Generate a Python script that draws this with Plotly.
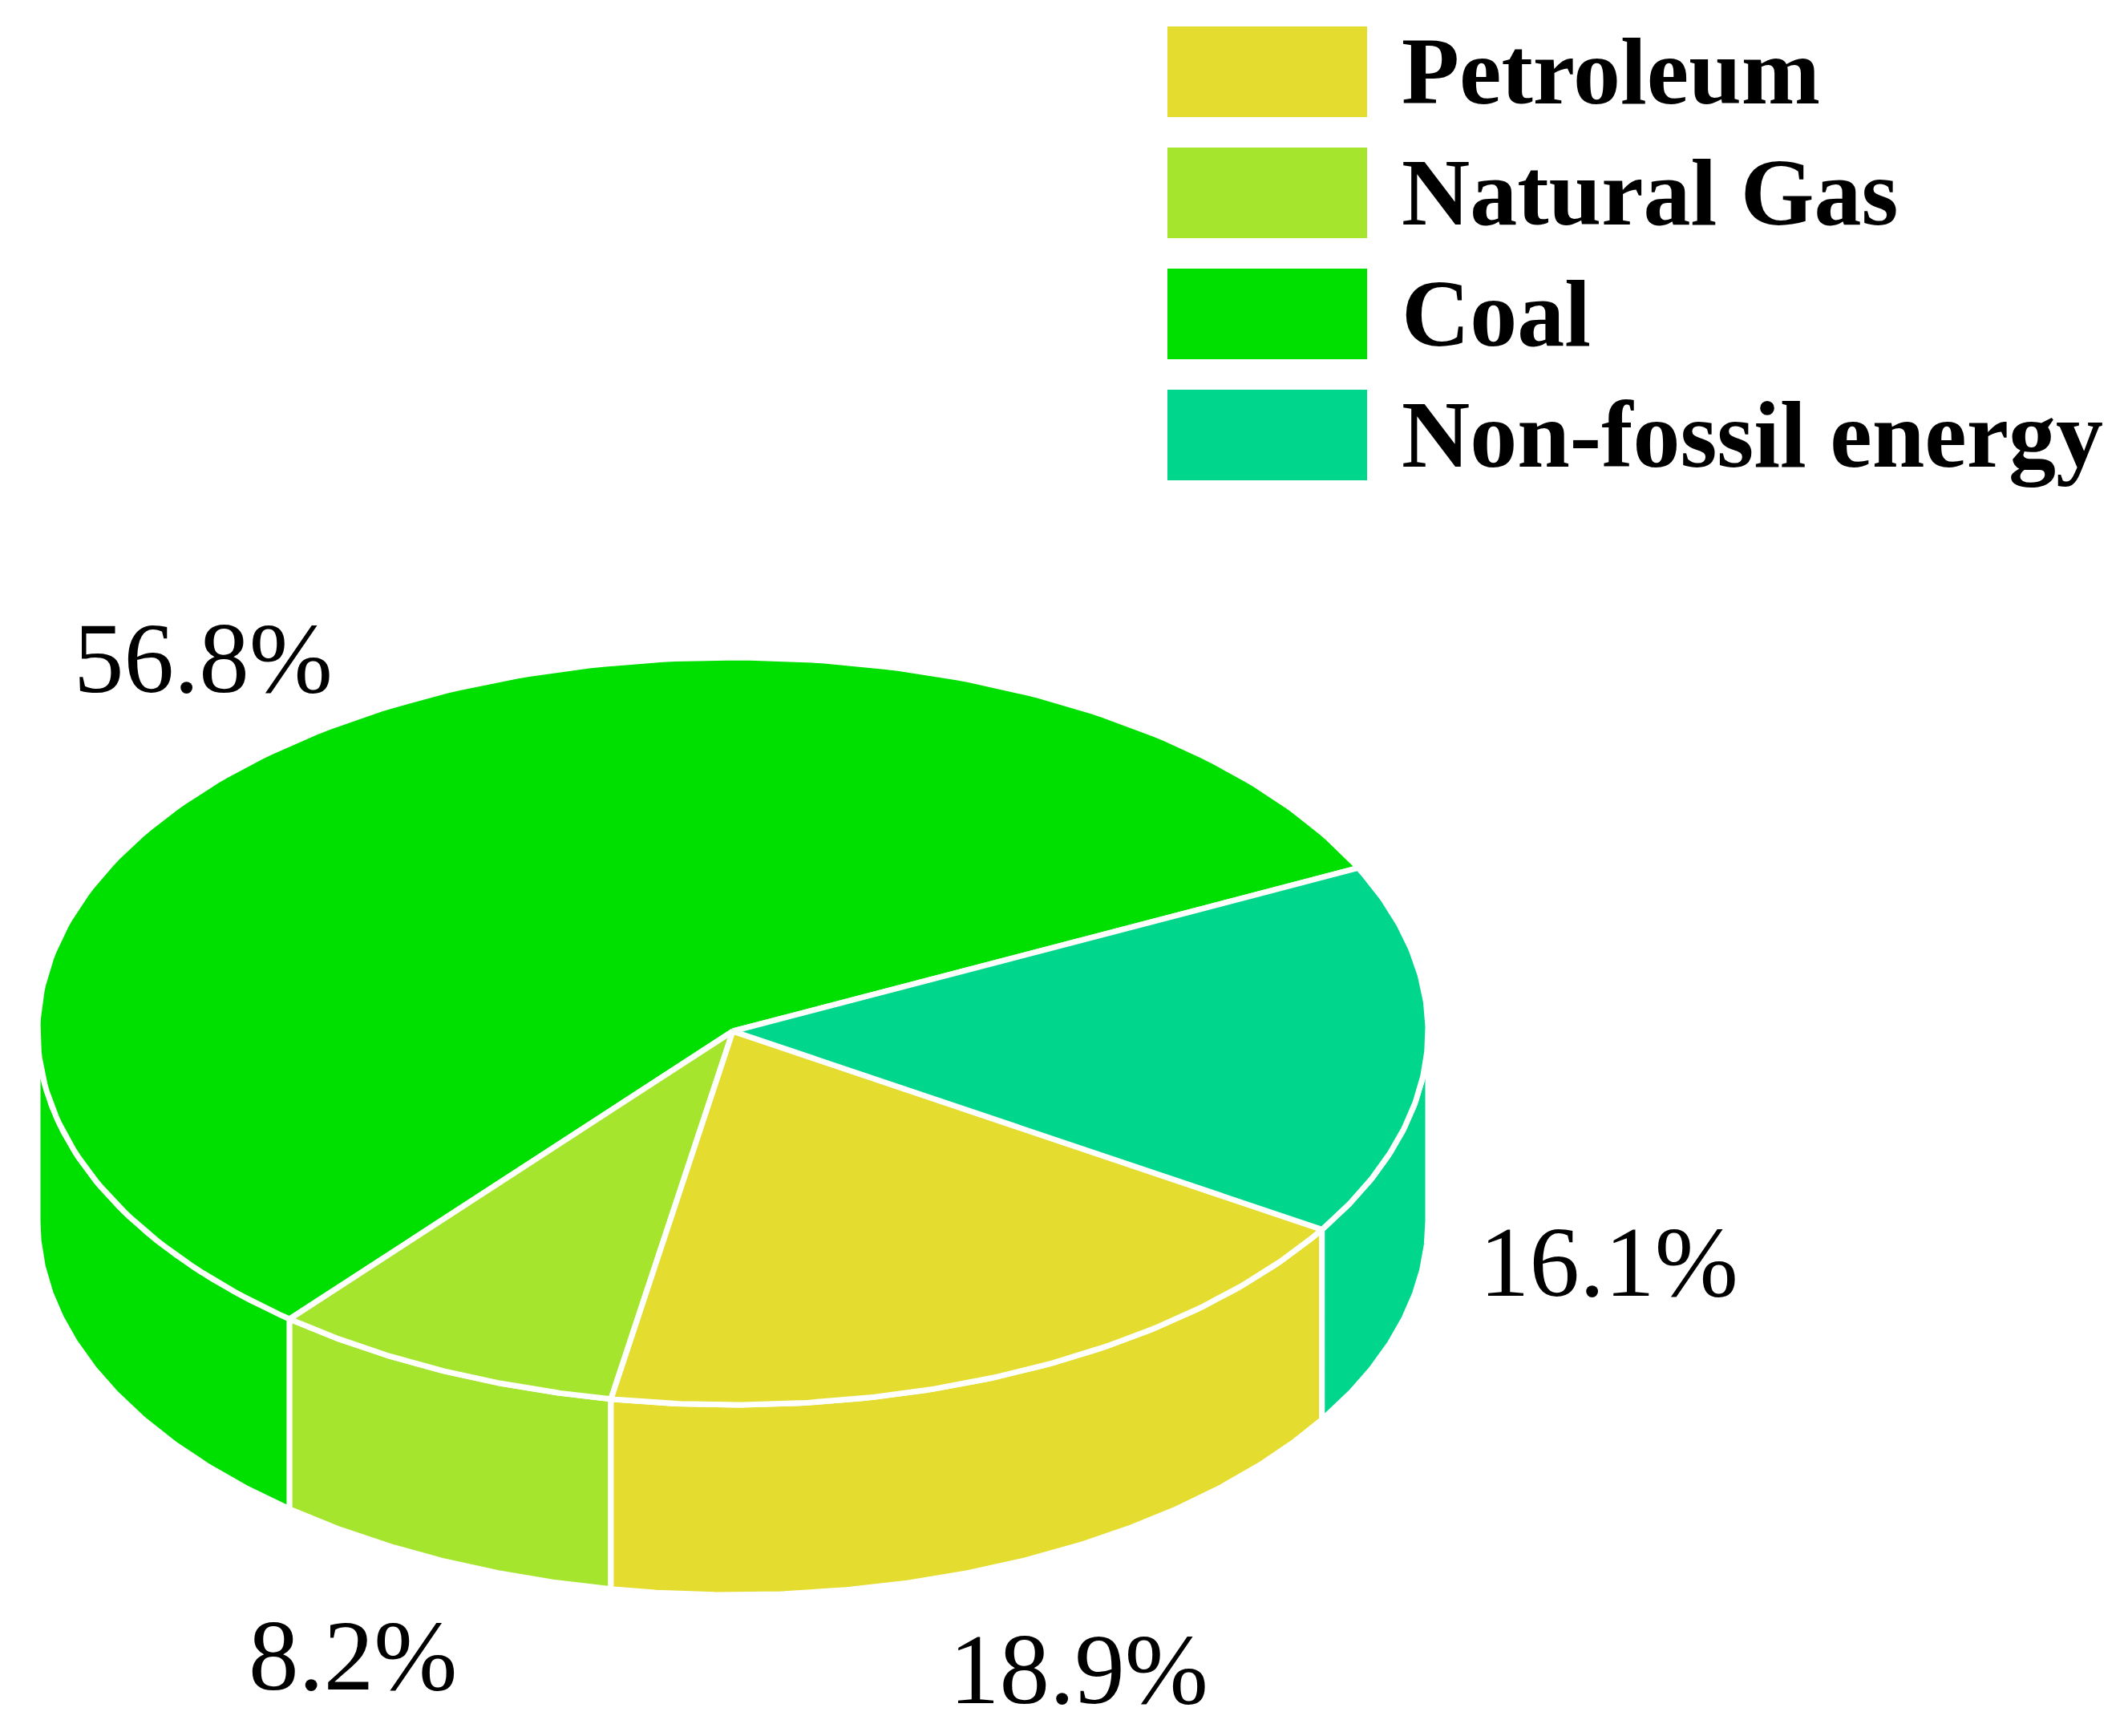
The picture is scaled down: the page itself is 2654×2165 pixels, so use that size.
import numpy as np
import plotly.graph_objects as go

W, H = 2654, 2165

# data (drawing order, counterclockwise from the Coal start)
labels = ["Coal", "Natural Gas", "Petroleum", "Non-fossil energy"]
values = [56.8, 8.2, 18.9, 16.1]
colors = ["#00E000", "#A6E52E", "#E5DC30", "#00D68C"]
legend_order = ["Petroleum", "Natural Gas", "Coal", "Non-fossil energy"]
label_pos = {"Coal": (245, 813), "Natural Gas": (432, 2057),
             "Petroleum": (1337, 2074), "Non-fossil energy": (1998, 1566)}

cx, cy, rx, ry, depth = 906, 1278, 867, 466, 237
start = 25.9

fig = go.Figure()

def arc(a0, a1, n=200):
    t = np.radians(np.linspace(a0, a1, n))
    return cx + rx * np.cos(t), cy - ry * np.sin(t)

bounds = []
a = start
for v in values:
    b = a + v / sum(values) * 360
    bounds.append((a, b))
    a = b

# sides (front half only: 180..360 deg)
for (a0, b0), c in zip(bounds, colors):
    for off in (0, 360, -360):
        lo, hi = max(a0 + off, 180), min(b0 + off, 360)
        if hi > lo:
            x, y = arc(lo, hi)
            xs = np.concatenate([x, x[::-1], x[:1]])
            ys = np.concatenate([y, y[::-1] + depth, y[:1]])
            fig.add_trace(go.Scatter(x=xs, y=ys, fill="toself", fillcolor=c, mode="lines",
                                     line=dict(color="white", width=7), hoverinfo="skip",
                                     showlegend=False))

# tops
for (a0, b0), c, lab in zip(bounds, colors, labels):
    x, y = arc(a0, b0)
    xs = np.concatenate([[cx], x, [cx]])
    ys = np.concatenate([[cy], y, [cy]])
    fig.add_trace(go.Scatter(x=xs, y=ys, fill="toself", fillcolor=c, mode="lines",
                             line=dict(color="white", width=7), name=lab, showlegend=False))

for lab, v in zip(labels, values):
    px, py = label_pos[lab]
    fig.add_annotation(x=px, y=py, text=f"{v}%", showarrow=False,
                       font=dict(family="Liberation Serif", size=125, color="black"))

# legend
for i, lab in enumerate(legend_order):
    c = colors[labels.index(lab)]
    top = 25 + i * 151
    fig.add_shape(type="rect", x0=1448, x1=1697, y0=top, y1=top + 113,
                  fillcolor=c, line=dict(width=0))
    fig.add_annotation(x=1738, y=top + 56, text=f"<b>{lab}</b>", showarrow=False,
                       xanchor="left", font=dict(family="Liberation Serif", size=118, color="black"))

fig.update_layout(width=W, height=H, margin=dict(l=0, r=0, t=0, b=0),
                  paper_bgcolor="white", plot_bgcolor="white",
                  xaxis=dict(range=[0, W], visible=False),
                  yaxis=dict(range=[H, 0], visible=False))
fig.write_html("out.html")
